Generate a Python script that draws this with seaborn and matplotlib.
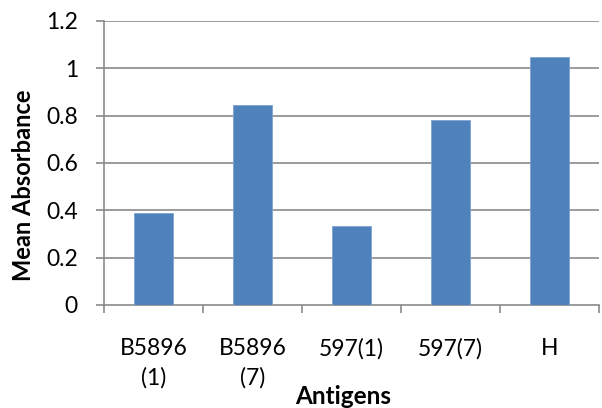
import matplotlib
matplotlib.use("Agg")
import matplotlib.pyplot as plt
import seaborn as sns
import pandas as pd
from matplotlib.ticker import FixedLocator

categories = ["B5896\n(1)", "B5896\n(7)", "597(1)", "597(7)", "H"]
values = [0.387, 0.845, 0.332, 0.781, 1.046]
yticks = [0, 0.2, 0.4, 0.6, 0.8, 1.0, 1.2]
ytick_labels = ["0", "0.2", "0.4", "0.6", "0.8", "1", "1.2"]

sns.set_theme(style="white")
plt.rcParams["font.family"] = ["Lato", "DejaVu Sans"]

df = pd.DataFrame({"Antigens": categories, "Mean Absorbance": values})

fig = plt.figure(figsize=(6.02, 4.08), dpi=100)
ax = fig.add_axes([0.1728, 0.2525, 0.8222, 0.6965])

sns.barplot(data=df, x="Antigens", y="Mean Absorbance", color="#4F81BD",
            width=0.4, saturation=1, edgecolor="#7FA3D3", linewidth=0.6,
            ax=ax, zorder=3)

grid_c = "#8A8A8A"
ax.set_ylim(0, 1.2)
ax.set_xlim(-0.5, len(categories) - 0.5)
ax.set_yticks(yticks)
ax.set_yticklabels(ytick_labels)
for y in yticks[1:]:
    ax.axhline(y, color=grid_c, lw=1.2, zorder=1)

for s in ["top", "right"]:
    ax.spines[s].set_visible(False)
ax.spines["left"].set_color(grid_c)
ax.spines["bottom"].set_color(grid_c)
ax.spines["left"].set_linewidth(1.2)
ax.spines["bottom"].set_linewidth(1.2)

ax.tick_params(axis="y", which="major", direction="out", length=5.8, width=1.2,
               color=grid_c, labelsize=16.5, pad=13, left=True, labelcolor="black")
ax.tick_params(axis="x", which="major", length=0, labelsize=16.5, pad=24,
               labelcolor="black")
ax.xaxis.set_minor_locator(FixedLocator([i - 0.5 for i in range(len(categories) + 1)]))
ax.tick_params(axis="x", which="minor", direction="out", length=5.5, width=1.2,
               color=grid_c, bottom=True)
for lab in ax.get_xticklabels():
    lab.set_linespacing(1.42)

ax.set_ylabel("Mean Absorbance", fontsize=17, fontweight="bold", color="black")
ax.yaxis.label.set_va("center")
ax.yaxis.set_label_coords(-0.162, 0.422)
ax.set_xlabel("Antigens", fontsize=17.5, fontweight="bold", color="black")
ax.xaxis.label.set_va("center")
ax.xaxis.set_label_coords(0.483, -0.322)

fig.savefig("out.png", dpi=100)
